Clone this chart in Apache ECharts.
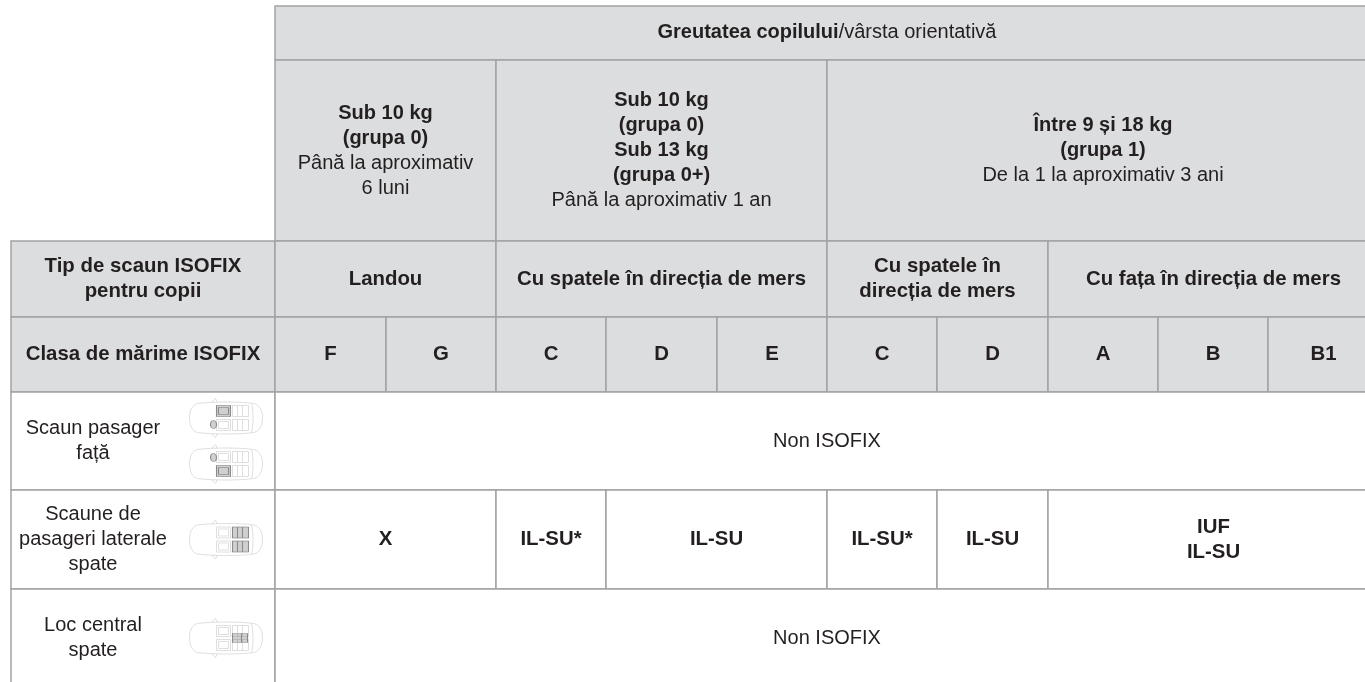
<!DOCTYPE html>
<html>
<head>
<meta charset="utf-8">
<style>
	html, body { margin: 0; padding: 0; background: #fff; overflow: hidden; }
	#chart { width: 1365px; height: 682px; }
</style>
<script src="https://cdn.jsdelivr.net/npm/echarts@6/dist/echarts.min.js"></script>
</head>
<body>
<div id="chart"></div>
<script>
//table content
const weightTitle = '{b|Greutatea copilului}{n|/vârsta orientativă}';
const weightGroups = [
	'{b|Sub 10 kg\n(grupa 0)}\n{n|Până la aproximativ\n6 luni}',
	'{b|Sub 10 kg\n(grupa 0)\nSub 13 kg\n(grupa 0+)}\n{n|Până la aproximativ 1 an}',
	'{b|Între 9 și 18 kg\n(grupa 1)}\n{n|De la 1 la aproximativ 3 ani}'
];
const seatTypeTitle = 'Tip de scaun ISOFIX\npentru copii';
const seatTypes = ['Landou', 'Cu spatele în direcția de mers', 'Cu spatele în\ndirecția de mers', 'Cu fața în direcția de mers'];
const sizeClassTitle = 'Clasa de mărime ISOFIX';
const sizeClasses = ['F', 'G', 'C', 'D', 'E', 'C', 'D', 'A', 'B', 'B1'];
const seatPositions = ['Scaun pasager\nfață', 'Scaune de\npasageri laterale\nspate', 'Loc central\nspate'];
const nonIsofix = 'Non ISOFIX';
const lateralSeatValues = ['X', 'IL-SU*', 'IL-SU', 'IL-SU*', 'IL-SU', 'IUF\nIL-SU'];

//layout
const COL_SIZES = [264, 110.5, 110.5, 110, 110.5, 110, 110.5, 110.5, 110, 110.5, 110.5],
	ROW_SIZES = [53.5, 181, 76, 75.5, 98, 99, 98],
	FONT = 'Liberation Sans',
	FONT_SIZE = 20,
	BOLD_CELL_SIZE = 20.4,
	LINE_HEIGHT = 25,
	TEXT_COLOR = '#231f20',
	HEAD_FILL = '#dcddde',
	LINE_COLOR = '#a2a3a5',
	CAR_LINE = '#d2d3d4',
	SEAT_LINE = '#8a8b8d',
	SEAT_FILL = 'rgba(120,121,123,0.35)';

const columnKeys = COL_SIZES.map((v, i) => 'c' + i),
	rowKeys = ROW_SIZES.map((v, i) => 'r' + i);

function cell(x0, x1, y0, y1, value, fill, bold, shiftLeft) {
	//matrix labels sit at the top of the cell, so the top padding centres them
	let height = ROW_SIZES.slice(y0, y1 + 1).reduce((a, b) => a + b, 0),
		lines = value.split('\n').length;
	return {
		coord: [[x0, x1], [y0, y1]],
		mergeCells: true,
		value: value,
		itemStyle: { color: fill, borderColor: LINE_COLOR, borderWidth: 1.5 },
		label: {
			show: true,
			color: TEXT_COLOR,
			fontFamily: FONT,
			fontSize: bold ? BOLD_CELL_SIZE : FONT_SIZE,
			fontWeight: bold ? 'bold' : 'normal',
			lineHeight: LINE_HEIGHT,
			overflow: 'none',
			padding: [(height - lines * LINE_HEIGHT) / 2, shiftLeft || 0, 0, 0],
			rich: {
				b: { fontFamily: FONT, fontSize: FONT_SIZE, fontWeight: 'bold', color: TEXT_COLOR, lineHeight: LINE_HEIGHT },
				n: { fontFamily: FONT, fontSize: FONT_SIZE, fontWeight: 'normal', color: TEXT_COLOR, lineHeight: LINE_HEIGHT }
			}
		}
	};
}

const cells = [
	{ coord: [[0, 0], [0, 1]], mergeCells: true, value: '', itemStyle: { color: '#fff', borderWidth: 0 } },
	cell(1, 10, 0, 0, weightTitle, HEAD_FILL),
	cell(1, 2, 1, 1, weightGroups[0], HEAD_FILL),
	cell(3, 5, 1, 1, weightGroups[1], HEAD_FILL),
	cell(6, 10, 1, 1, weightGroups[2], HEAD_FILL),
	cell(0, 0, 2, 2, seatTypeTitle, HEAD_FILL, true),
	cell(1, 2, 2, 2, seatTypes[0], HEAD_FILL, true),
	cell(3, 5, 2, 2, seatTypes[1], HEAD_FILL, true),
	cell(6, 7, 2, 2, seatTypes[2], HEAD_FILL, true),
	cell(8, 10, 2, 2, seatTypes[3], HEAD_FILL, true),
	cell(0, 0, 3, 3, sizeClassTitle, HEAD_FILL, true),
	cell(0, 0, 4, 4, seatPositions[0], '#fff', false, 100),
	cell(0, 0, 5, 5, seatPositions[1], '#fff', false, 100),
	cell(0, 0, 6, 6, seatPositions[2], '#fff', false, 100),
	cell(1, 10, 4, 4, nonIsofix, '#fff'),
	cell(1, 10, 6, 6, nonIsofix, '#fff'),
	cell(1, 2, 5, 5, lateralSeatValues[0], '#fff', true),
	cell(3, 3, 5, 5, lateralSeatValues[1], '#fff', true),
	cell(4, 5, 5, 5, lateralSeatValues[2], '#fff', true),
	cell(6, 6, 5, 5, lateralSeatValues[3], '#fff', true),
	cell(7, 7, 5, 5, lateralSeatValues[4], '#fff', true),
	cell(8, 10, 5, 5, lateralSeatValues[5], '#fff', true)
];
sizeClasses.forEach((name, i) => {
	cells.push(cell(i + 1, i + 1, 3, 3, name, HEAD_FILL, true));
});

//car icons, local box is 73 x 39 and the corner moves keep every path on the same box
const BOX = 'M0 0L0 0M73 39L73 39';
const box = (x, y, w, h) => `M${x} ${y}h${w}v${h}h${-w}Z`;
const seat = (x, y) => box(x, y, 14, 11) + box(x + 2, y + 2, 10, 7) + box(x + 16, y, 16, 11) + `M${x + 21} ${y}v11M${x + 26} ${y}v11`;
const CAR_BODY = 'M8 5C22 3 52 3 64 5C70 6 73 12 73 19C73 27 70 33 64 34C52 36 22 36 8 34C3 33 0 27 0 19C0 12 3 6 8 5Z'
	+ 'M22 4L26 0L28 4M22 35L26 39L28 35' + 'M62 5C64 12 64 27 62 34';
const carPlain = 'path://' + BOX + CAR_BODY + seat(27, 7) + seat(27, 21);
const wheel = y => `M24 ${y}C20 ${y} 20 ${y + 8} 24 ${y + 8}C28 ${y + 8} 28 ${y} 24 ${y}Z`;
const seatTop = 'path://' + BOX + box(27, 7, 14, 11) + box(29, 9, 10, 7) + wheel(22);
const seatBottom = 'path://' + BOX + box(27, 21, 14, 11) + box(29, 23, 10, 7) + wheel(9);
const seatRear = 'path://' + BOX + box(43, 7, 16, 11) + box(43, 21, 16, 11) + 'M48 7v11M53 7v11M48 21v11M53 21v11';
const seatCentre = 'path://' + BOX + box(43, 15, 15, 9) + 'M52 15v9';

const carIcons = [
	{ row: 4, shift: -23, car: carPlain, seat: seatTop },
	{ row: 4, shift: 23, car: carPlain, seat: seatBottom },
	{ row: 5, shift: 0, car: carPlain, seat: seatRear },
	{ row: 6, shift: 0, car: carPlain, seat: seatCentre }
];

function iconSeries(key, fill, color, width) {
	return {
		type: 'scatter',
		coordinateSystem: 'matrix',
		silent: true,
		symbolSize: [73, 39],
		itemStyle: { color: fill, borderColor: color, borderWidth: width, opacity: 1 },
		data: carIcons.map(d => ({
			value: [columnKeys[0], rowKeys[d.row]],
			symbol: d[key],
			symbolOffset: [83, d.shift]
		}))
	};
}

const chart = echarts.init(document.getElementById('chart'));
chart.setOption({
	animation: false,
	backgroundColor: '#fff',
	matrix: {
		left: 11,
		top: 6,
		width: 1368,
		height: 681,
		x: { show: false, data: columnKeys.map((value, i) => ({ value, size: COL_SIZES[i] })) },
		y: { show: false, data: rowKeys.map((value, i) => ({ value, size: ROW_SIZES[i] })) },
		body: { data: cells, itemStyle: { borderColor: LINE_COLOR, borderWidth: 1.5 } },
		backgroundStyle: { borderWidth: 0 }
	},
	series: [iconSeries('car', 'none', CAR_LINE, 0.7), iconSeries('seat', SEAT_FILL, SEAT_LINE, 0.8)]
});
</script>
</body>
</html>
